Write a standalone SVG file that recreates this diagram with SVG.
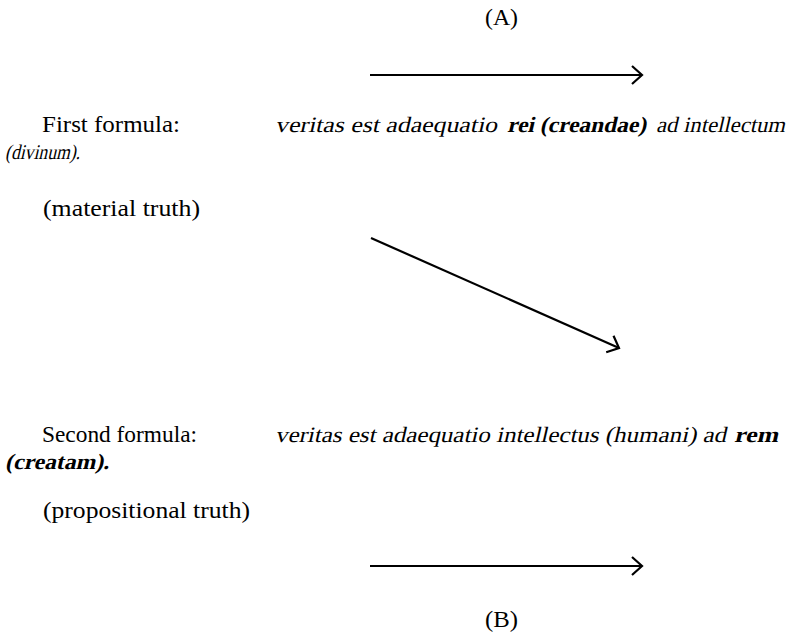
<svg xmlns="http://www.w3.org/2000/svg" width="793" height="632" viewBox="0 0 793 632">
<style>
text{font-family:"Liberation Serif","Times New Roman",serif;font-size:23px;fill:#000}
.i{font-size:22px}
.s{font-size:21px}
.b{font-size:22px;font-weight:bold}
.conn{stroke:#000;stroke-width:2.2;fill:none}
</style>
<defs>
<marker id="head" markerUnits="userSpaceOnUse" viewBox="-14 -14 28 28" markerWidth="28" markerHeight="28" refX="0" refY="0" orient="auto" overflow="visible">
<path d="M-10,-9 L0,0 L-10,9" fill="none" stroke="#000" stroke-width="2.2"/>
</marker>
</defs>
<rect width="793" height="632" fill="#fff"/>
<g id="label-A"><text x="485" y="25" textLength="33" lengthAdjust="spacingAndGlyphs">(A)</text></g>
<g id="first-formula">
<text x="42" y="131.5" textLength="138" lengthAdjust="spacingAndGlyphs">First formula:</text>
<g transform="translate(275,131.5) skewX(-13)"><text class="i" x="0" y="0" textLength="222" lengthAdjust="spacingAndGlyphs">veritas est adaequatio</text></g>
<g transform="translate(507,131.5) skewX(-13)"><text class="b" x="0" y="0" textLength="139" lengthAdjust="spacingAndGlyphs">rei (creandae)</text></g>
<g transform="translate(656,131.5) skewX(-13)"><text class="i" x="0" y="0" textLength="129" lengthAdjust="spacingAndGlyphs">ad intellectum</text></g>
<g transform="translate(5,159) skewX(-13)"><text class="i s" x="0" y="0" textLength="75" lengthAdjust="spacingAndGlyphs">(divinum).</text></g>
<text x="43" y="216" textLength="157" lengthAdjust="spacingAndGlyphs">(material truth)</text>
</g>
<g id="second-formula">
<text x="42" y="441.5" textLength="155" lengthAdjust="spacingAndGlyphs">Second formula:</text>
<g transform="translate(275,441.5) skewX(-13)"><text class="i" x="0" y="0" textLength="451" lengthAdjust="spacingAndGlyphs">veritas est adaequatio intellectus (humani) ad</text></g>
<g transform="translate(734,441.5) skewX(-13)"><text class="b" x="0" y="0" textLength="44" lengthAdjust="spacingAndGlyphs">rem</text></g>
<g transform="translate(5,469) skewX(-13)"><text class="b" x="0" y="0" textLength="104" lengthAdjust="spacingAndGlyphs">(creatam).</text></g>
<text x="43" y="518" textLength="207" lengthAdjust="spacingAndGlyphs">(propositional truth)</text>
</g>
<g id="label-B"><text x="485" y="627" textLength="33" lengthAdjust="spacingAndGlyphs">(B)</text></g>
<g id="connectors">
<line class="conn" x1="370" y1="75" x2="642" y2="75" marker-end="url(#head)"/>
<line class="conn" x1="371" y1="238" x2="619" y2="348" marker-end="url(#head)"/>
<line class="conn" x1="370" y1="566" x2="642" y2="566" marker-end="url(#head)"/>
</g>
</svg>
